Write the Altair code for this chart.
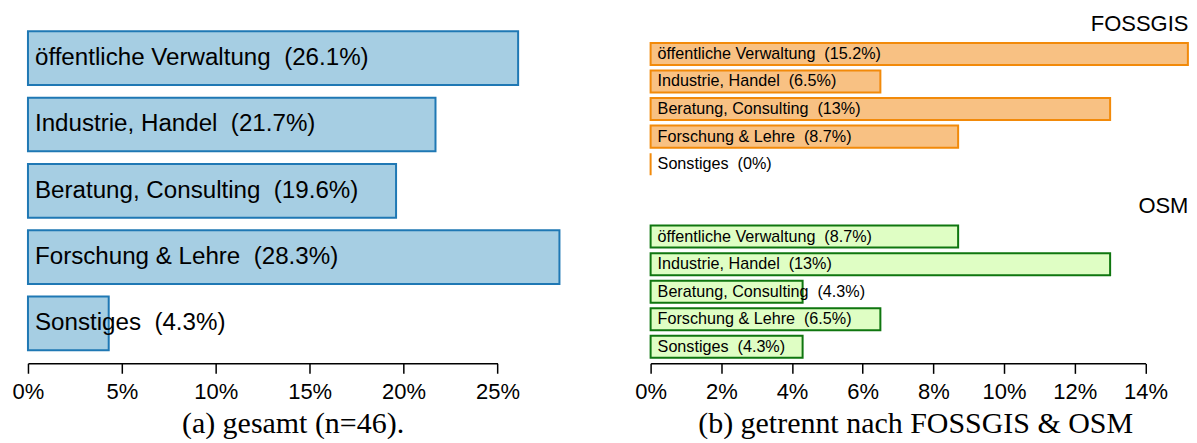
import altair as alt
import pandas as pd

# ---------------- data ----------------
categories = ["öffentliche Verwaltung", "Industrie, Handel", "Beratung, Consulting",
              "Forschung & Lehre", "Sonstiges"]
total_pct = [26.1, 21.7, 19.6, 28.3, 4.3]
fossgis_pct = [15.2, 6.5, 13.0, 8.7, 0.0]
osm_pct = [8.7, 13.0, 4.3, 6.5, 4.3]
left_ticks = [0, 5, 10, 15, 20, 25]
right_ticks = [0, 2, 4, 6, 8, 10, 12, 14]
caption_a = "(a) gesamt (n=46)."
caption_b = "(b) getrennt nach FOSSGIS & OSM"
group_titles = ["FOSSGIS", "OSM"]

SANS = "Liberation Sans"
SERIF = "Liberation Serif"


def frame(vals):
    return pd.DataFrame({
        "cat": categories,
        "pct": vals,
        "label": [f"{c}\u00a0 ({v:g}%)" for c, v in zip(categories, vals)],
    })


def x_axis(ticks, caption):
    return alt.Axis(
        values=ticks, labelExpr="datum.value + '%'", labelFlush=False, labelOverlap=False,
        labelFont=SANS, labelFontSize=22, labelColor="black", labelPadding=8,
        tickSize=10, tickColor="black", tickWidth=1.5,
        domainColor="black", domainWidth=1.5, grid=False,
        title=caption, titleFont=SERIF, titleFontSize=30, titleFontWeight="normal",
        titleColor="black", titleX=265, titleY=69, titleAlign="center",
        titleBaseline="alphabetic",
    )


def bars(df, ticks, width, height, fill, stroke, font_size, dx, yscale,
         axis=None, axis_offset=0, title=None):
    xs = alt.Scale(domain=[min(ticks), max(ticks)], nice=False, zero=True)
    if axis is None:
        x_enc = alt.X("pct:Q", scale=xs, axis=None)
    else:
        axis.offset = axis_offset
        x_enc = alt.X("pct:Q", scale=xs, axis=axis)
    base = alt.Chart(df)
    bar = base.mark_bar(fill=fill, stroke=stroke, strokeWidth=2).encode(
        x=x_enc,
        y=alt.Y("cat:N", sort=categories, scale=yscale, axis=None),
    )
    txt = base.mark_text(align="left", baseline="middle", font=SANS,
                         fontSize=font_size, dx=dx, color="black").encode(
        x=alt.datum(0),
        y=alt.Y("cat:N", sort=categories),
        text="label:N",
    )
    props = dict(width=width, height=height)
    if title is not None:
        props["title"] = title
    return alt.layer(bar, txt).properties(**props)


def group_title(text):
    return alt.TitleParams(text, anchor="end", frame="group", font=SANS, fontSize=22,
                           fontWeight="normal", color="black", dx=43, offset=-21.5,
                           baseline="alphabetic")


left = bars(frame(total_pct), left_ticks, 470.3, 319.5, "#a6cee3", "#1f78b4", 24.2, 7,
            alt.Scale(paddingInner=0.19, paddingOuter=0),
            axis=x_axis(left_ticks, caption_a), axis_offset=13)

fossgis = bars(frame(fossgis_pct), right_ticks, 495.7, 155.7, "#f8c183", "#f28a0a", 16.2, 7,
               alt.Scale(paddingInner=0.2, paddingOuter=0.42),
               title=group_title(group_titles[0]))

osm = bars(frame(osm_pct), right_ticks, 495.7, 147.7, "#dffec4", "#0f760f", 16.2, 7,
           alt.Scale(paddingInner=0.2, paddingOuter=0.277, align=0.765),
           axis=x_axis(right_ticks, caption_b), axis_offset=2,
           title=group_title(group_titles[1]))

right = alt.vconcat(fossgis, osm, spacing=26.9, bounds="flush")

chart = alt.hconcat(left, right, spacing=152.7, bounds="flush").properties(
    padding={"left": 4, "top": 4, "right": 0, "bottom": 0}
).configure_view(stroke=None)

chart.save("out.html", embed_options={"renderer": "svg", "actions": False})
